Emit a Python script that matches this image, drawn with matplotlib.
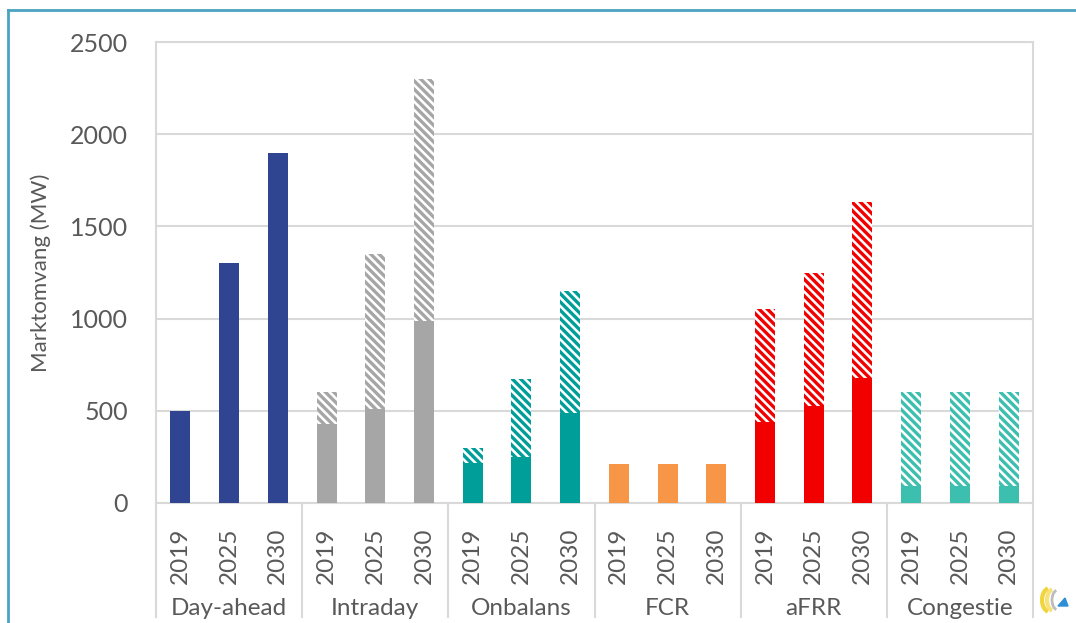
import matplotlib
matplotlib.use('Agg')
from matplotlib import pyplot as plt
from matplotlib.patches import Arc, Polygon
from matplotlib.lines import Line2D
import numpy as np

categories = ['Day-ahead', 'Intraday', 'Onbalans', 'FCR', 'aFRR', 'Congestie']
years = ['2019', '2025', '2030']

# solid part of each bar (MW), per category, per year
solid_mw = [
    [500, 1300, 1900],
    [430, 510, 985],
    [215, 250, 490],
    [210, 210, 210],
    [440, 525, 680],
    [90, 90, 90],
]
# hatched part stacked on top (MW)
hatched_mw = [
    [0, 0, 0],
    [170, 840, 1315],
    [85, 420, 660],
    [0, 0, 0],
    [610, 725, 950],
    [510, 510, 510],
]
colors = ['#2F4592', '#A6A6A6', '#009E99', '#F79646', '#F20000', '#3CBFAE']

plt.rcParams['font.family'] = ['Lato', 'DejaVu Sans']
plt.rcParams['hatch.linewidth'] = 2.4

grid_col = '#D9D9D9'
text_col = '#595959'

figure = plt.figure(figsize=(10.76, 6.23), dpi=100)
ax = figure.add_axes([156 / 1076, 1 - 503 / 623, (1033 - 156) / 1076, (503 - 42) / 623])

n_years = len(years)
for ci, cat in enumerate(categories):
    x = np.arange(n_years) + ci * n_years + 0.5
    ax.bar(x, solid_mw[ci], width=0.41, color=colors[ci], linewidth=0, zorder=3)
    if any(hatched_mw[ci]):
        ax.bar(x, hatched_mw[ci], width=0.41, bottom=solid_mw[ci], facecolor='white',
               edgecolor=colors[ci], hatch='\\\\\\\\', linewidth=0, zorder=3)

ax.set_xlim(0, len(categories) * n_years)
ax.set_ylim(0, 2500)
ax.set_yticks(np.arange(0, 2501, 500))
ax.yaxis.grid(True, color=grid_col, linewidth=1.5, zorder=0)
ax.set_axisbelow(True)
ax.tick_params(axis='y', length=0, pad=20, labelsize=18, labelcolor=text_col)
ax.set_xticks([])
for s in ax.spines.values():
    s.set_color(grid_col)
    s.set_linewidth(1.5)
ax.set_ylabel('Marktomvang (MW)', fontsize=16, color=text_col, labelpad=14)

# two-level category axis
trans = ax.get_xaxis_transform()
for k in range(len(categories) + 1):
    ax.add_line(Line2D([k * n_years, k * n_years], [0, -0.247], transform=trans,
                       color=grid_col, linewidth=1.5, clip_on=False))
for ci, cat in enumerate(categories):
    for yi, yr in enumerate(years):
        ax.text(ci * n_years + yi + 0.5, -0.115, yr, transform=trans, rotation=90,
                ha='center', va='center', fontsize=17.5, color=text_col)
    ax.text(ci * n_years + 1.5, -0.228, cat, transform=trans, ha='center', va='center',
            fontsize=17.5, color=text_col)

# frame of the original slide
border = '#4AA3C0'
figure.add_artist(Line2D([8 / 1076, 1], [1 - 10 / 623, 1 - 10 / 623], color=border, linewidth=2))
figure.add_artist(Line2D([8 / 1076, 8 / 1076], [0, 1 - 10 / 623], color=border, linewidth=2))

# small logo, bottom right
lax = figure.add_axes([1036 / 1076, 1 - 618 / 623, 36 / 1076, 36 / 623])
lax.set_xlim(0, 36)
lax.set_ylim(0, 36)
lax.axis('off')
lax.add_patch(Arc((14, 18), 16, 24, theta1=100, theta2=260, color='#F2D43A', linewidth=3))
lax.add_patch(Arc((18, 18), 14, 22, theta1=100, theta2=260, color='#F7E27A', linewidth=3))
lax.add_patch(Arc((22, 18), 12, 20, theta1=100, theta2=260, color='#BDBDBD', linewidth=2))
lax.add_patch(Polygon([[22, 12], [32, 12], [29, 20]], closed=True, color='#2E8FD8'))

plt.savefig('out.png', dpi=100)
